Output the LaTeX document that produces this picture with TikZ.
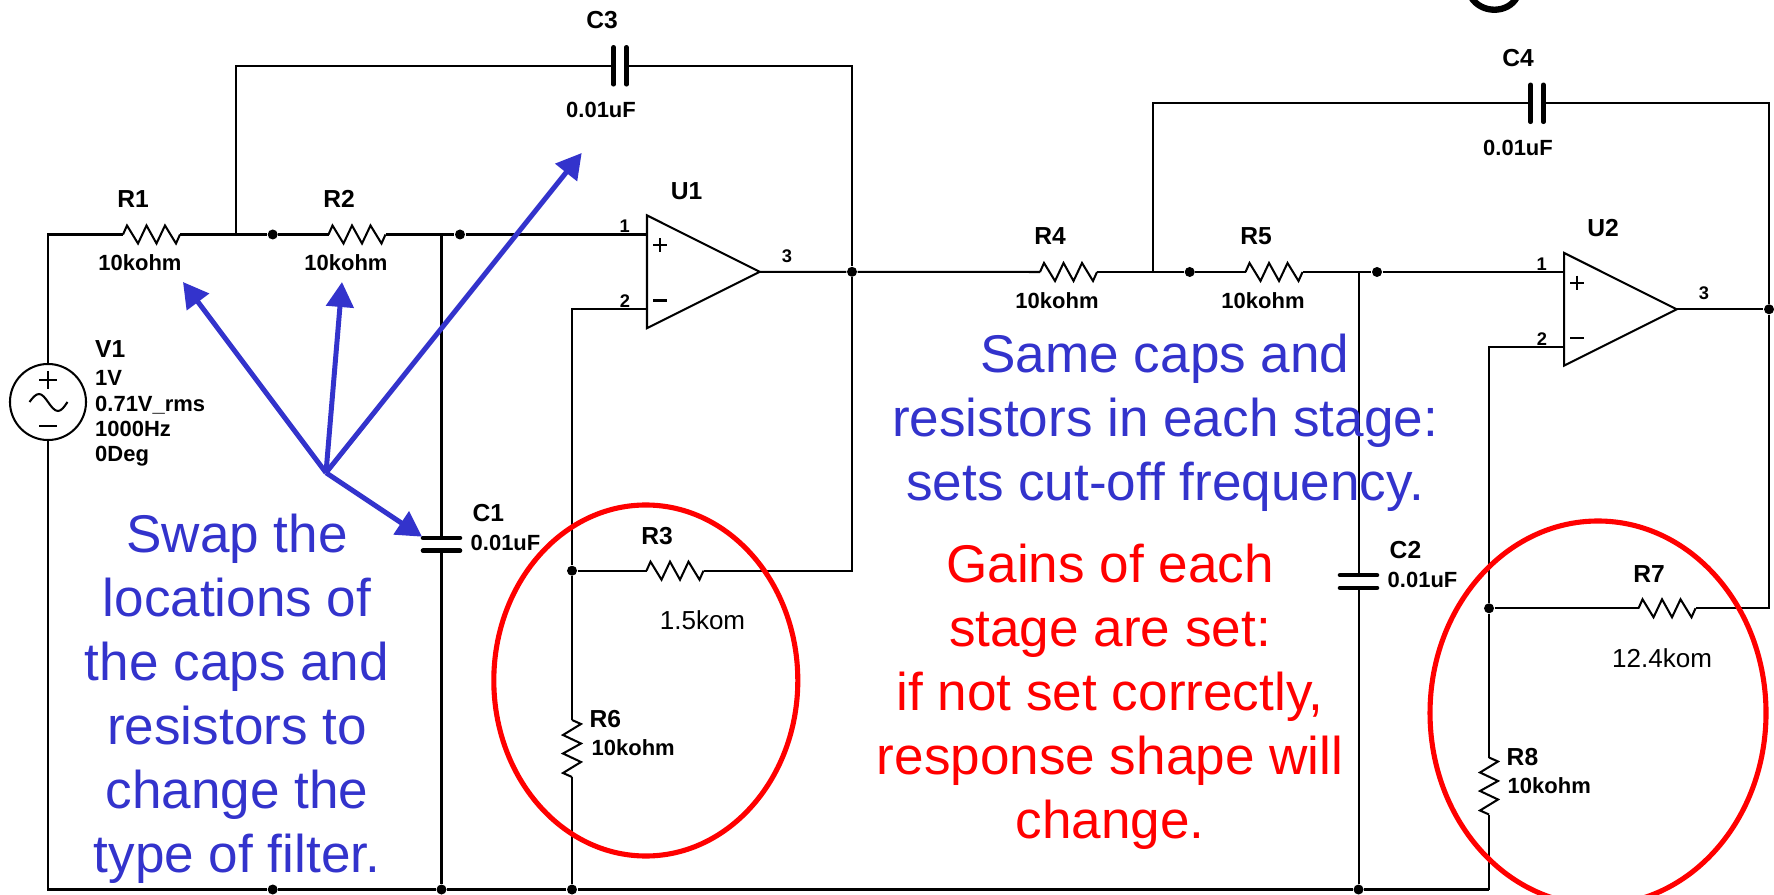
\documentclass[tikz,border=0pt]{standalone}
\usepackage{fontspec}
\setmainfont{Liberation Sans}
\usetikzlibrary{arrows.meta, positioning}
\definecolor{noteblue}{RGB}{51,51,204}
\tikzset{
  wire/.style={line width=0.58pt, black},
  junc/.style={circle, fill=black, inner sep=0pt, minimum size=0.1cm},
  lab/.style={inner sep=0pt, font=\fontsize{6.25pt}{7.2pt}\bfseries\selectfont},
  ref/.style={inner sep=0pt, font=\fontsize{7pt}{8pt}\bfseries\selectfont},
  pin/.style={inner sep=0pt, font=\fontsize{5.2pt}{6pt}\bfseries\selectfont},
  val/.style={inner sep=0pt, font=\fontsize{7.4pt}{9pt}\selectfont},
  note/.style={inner sep=0pt, align=center, font=\fontsize{15.1pt}{18.2pt}\selectfont},
  fan/.style={line width=1.42pt, noteblue, -{Triangle[length=2.5mm,width=2.7mm]}},
  ring/.style={line width=1.45pt, red},
  hres/.pic={
    \draw[wire] (-28.5,0) -- ++(4,-9) -- ++(11,18) -- ++(8.5,-18) -- ++(10,18) -- ++(8.5,-18) -- ++(11,18) -- ++(4,-9);
    \coordinate (-a) at (-28.5,0);
    \coordinate (-b) at (28.5,0);
  },
  cap/.pic={
    \draw[line width=1.3pt, line cap=round] (-6.4,-18.5) -- (-6.4,18.5);
    \draw[line width=1.3pt, line cap=round] (6.4,-18.5) -- (6.4,18.5);
    \coordinate (-a) at (-6.4,0);
    \coordinate (-b) at (6.4,0);
  },
  opamp/.pic={
    \draw[wire] (0,-56.4) -- (112.7,0) -- (0,56.4) -- cycle;
    \draw[wire] (6,-26.7) -- ++(14,0);
    \draw[wire] (13,-33.7) -- ++(0,14);
    \draw[wire] (6,28.7) -- ++(14,0);
    \coordinate (-p) at (0,-37.3);
    \coordinate (-m) at (0,37.4);
    \coordinate (-o) at (112.7,0);
    \node[pin] (-n1) at (-22.3,-45.5) {1};
    \node[pin] (-n2) at (-22,29.5) {2};
    \node[pin] (-n3) at (140,-16) {3};
  }
}
\begin{document}
\begin{tikzpicture}[x=0.01cm, y=-0.01cm]
\useasboundingbox (0,0) rectangle (1774,895);

\node[draw, wire, circle, inner sep=0pt, minimum size=0.76cm] (Vs) at (48,402) {};
\draw[wire] (39,380) -- (57,380);
\draw[wire] (48,371) -- (48,389);
\draw[wire] (39,425.7) -- (57,425.7);
\draw[wire] (29.5,402) sin (39,394) cos (48,402) sin (58,411) cos (67.5,402);

\pic (R1) at (151.5,234.5) {hres};
\pic (R2) at (357,234.5) {hres};
\pic (R3) at (675,570.7) {hres};
\pic (R4) at (1068.5,272) {hres};
\pic (R5) at (1274,272) {hres};
\pic (R7) at (1667,608.3) {hres};
\pic[rotate=-90] (R6) at (572,748.5) {hres};
\pic[rotate=-90] (R8) at (1489,786) {hres};
\pic (C3) at (620,65.8) {cap};
\pic (C4) at (1537,103.3) {cap};
\pic[rotate=-90] (C1) at (441.5,544.3) {cap};
\pic[rotate=-90] (C2) at (1358.5,581.5) {cap};
\pic (U1) at (647,271.8) {opamp};
\pic (U2) at (1564,309.3) {opamp};

\coordinate (T1) at (235.7,234.5);
\coordinate (T2) at (441.5,234.5);
\coordinate (T3) at (1152.7,272);
\coordinate (T4) at (1358.5,272);
\node[junc] (J1) at (272.7,234.5) {};
\node[junc] (J2) at (460,234.5) {};
\node[junc] (J3) at (1189.7,272) {};
\node[junc] (J4) at (1377,272) {};
\node[junc] (Out1) at (852,271.8) {};
\node[junc] (Out2) at (1769,309.3) {};
\node[junc] (Fb1) at (572,570.7) {};
\node[junc] (Fb2) at (1489,608.3) {};
\node[junc] (G1) at (272.7,889.5) {};
\node[junc] (G2) at (441.5,889.5) {};
\node[junc] (G3) at (572,889.5) {};
\node[junc] (G4) at (1358.5,889.5) {};
\coordinate (G5) at (1489,889.5);

\draw[wire] (Vs.north) |- (R1-a);
\draw[wire] (R1-b) -- (J1) -- (R2-a);
\draw[wire] (R2-b) -- (J2) -- (U1-p);
\draw[wire] (T1) |- (C3-a);
\draw[wire] (C3-b) -| (Out1);
\draw[wire] (T2) -- (C1-a);
\draw[wire] (C1-b) -- (G2);
\draw[wire] (U1-o) -- (Out1) -- (R4-a);
\draw[wire] (U1-m) -| (Fb1);
\draw[wire] (Fb1) -- (R3-a);
\draw[wire] (R3-b) -| (Out1);
\draw[wire] (Fb1) -- (R6-a);
\draw[wire] (R6-b) -- (G3);
\draw[wire] (R4-b) -- (J3) -- (R5-a);
\draw[wire] (R5-b) -- (J4) -- (U2-p);
\draw[wire] (T3) |- (C4-a);
\draw[wire] (C4-b) -| (Out2);
\draw[wire] (T4) -- (C2-a);
\draw[wire] (C2-b) -- (G4);
\draw[wire] (U2-o) -- (Out2);
\draw[wire] (U2-m) -| (Fb2);
\draw[wire] (Fb2) -- (R7-a);
\draw[wire] (R7-b) -| (Out2);
\draw[wire] (Fb2) -- (R8-a);
\draw[wire] (R8-b) -- (G5);
\draw[wire] (Vs.south) |- (G1) -- (G2) -- (G3) -- (G4) -- (G5);

\node[ref] (R1name) at (133,199) {R1};
\node[lab] (R1val) at (140,263) {10kohm};
\node[ref] (R2name) at (339,199) {R2};
\node[lab] (R2val) at (346,263) {10kohm};
\node[ref] (R3name) at (657,536) {R3};
\node[val] (R3val) at (702.5,620) {1.5kom};
\node[ref] (R4name) at (1050,236.5) {R4};
\node[lab] (R4val) at (1057,300.5) {10kohm};
\node[ref] (R5name) at (1256,236.5) {R5};
\node[lab] (R5val) at (1263,300.5) {10kohm};
\node[ref, anchor=west] (R6name) at (589,719) {R6};
\node[lab, anchor=west] (R6val) at (591,748) {10kohm};
\node[ref] (R7name) at (1649,574) {R7};
\node[val] (R7val) at (1662,658) {12.4kom};
\node[ref, anchor=west] (R8name) at (1506,757) {R8};
\node[lab, anchor=west] (R8val) at (1507,786) {10kohm};
\node[ref] (C3name) at (602,20.5) {C3};
\node[lab] (C3val) at (601,110) {0.01uF};
\node[ref] (C4name) at (1518,58) {C4};
\node[lab] (C4val) at (1518,147.5) {0.01uF};
\node[ref, anchor=west] (C1name) at (472,513) {C1};
\node[lab, anchor=west] (C1val) at (470,542.7) {0.01uF};
\node[ref, anchor=west] (C2name) at (1389,550.5) {C2};
\node[lab, anchor=west] (C2val) at (1387,580) {0.01uF};
\node[ref] (U1name) at (686.5,191) {U1};
\node[ref] (U2name) at (1603,228) {U2};
\node[ref, anchor=west] (V1name) at (94.5,349) {V1};
\node[lab, anchor=west, align=left] (V1val) at (94.5,418.5) {1V\\0.71V\_rms\\1000Hz\\0Deg};

\draw[line width=1.8pt] (1471,-3) .. controls (1481,14) and (1508,14) .. (1517,-3);

\draw[ring] (645.8,680.5) ellipse (152 and 175.5);
\draw[ring] (1598,713) ellipse (168 and 192);

\coordinate (Hub) at (326,472.7);
\coordinate (AimR1) at (183,282);
\coordinate (AimR2) at (342,282);
\coordinate (AimC3) at (581.7,153);
\coordinate (AimC1) at (422,536.7);
\draw[fan] (Hub) -- (AimR1);
\draw[fan] (Hub) -- (AimR2);
\draw[fan] (Hub) -- (AimC3);
\draw[fan] (Hub) -- (AimC1);

\node[note, noteblue] (Swap) at (237,698.5) {Swap the\\locations of\\the caps and\\resistors to\\change the\\type of filter.};
\node[note, noteblue] (Same) at (1165,422.5) {Same caps and\\resistors in each stage:\\sets cut-off frequency.};
\node[note, red] (Gains) at (1110,697) {Gains of each\\stage are set:\\if not set correctly,\\response shape will\\change.};
\end{tikzpicture}
\end{document}
